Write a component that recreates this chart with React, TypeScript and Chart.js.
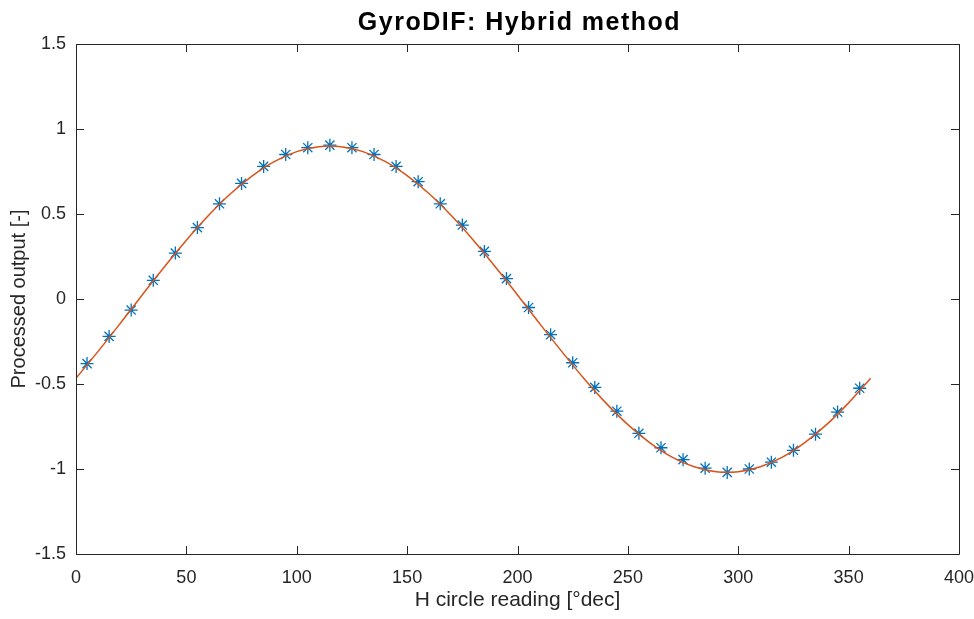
import React, { useEffect, useRef } from "react";
import { Chart, registerables } from "chart.js";

Chart.register(...registerables);

const titleText = "GyroDIF: Hybrid method";
const xTitle = "H circle reading [°dec]";
const yTitle = "Processed output [-]";

// Measured samples (asterisks)
const sampleX = [5, 15, 25, 35, 45, 55, 65, 75, 85, 95, 105, 115, 125, 135, 145, 155, 165, 175, 185, 195, 205, 215, 225, 235, 245, 255, 265, 275, 285, 295, 305, 315, 325, 335, 345, 355];
const sampleY = [-0.38, -0.22, -0.065, 0.11, 0.27, 0.42, 0.56, 0.68, 0.78, 0.85, 0.89, 0.905, 0.89, 0.85, 0.78, 0.69, 0.56, 0.435, 0.28, 0.12, -0.05, -0.21, -0.375, -0.52, -0.66, -0.79, -0.875, -0.945, -0.995, -1.02, -1.0, -0.96, -0.89, -0.795, -0.665, -0.525];

// Fitted curve (orange line), read at 10° steps
const fitX = [0, 10, 20, 30, 40, 50, 60, 70, 80, 90, 100, 110, 120, 130, 140, 150, 160, 170, 180, 190, 200, 210, 220, 230, 240, 250, 260, 270, 280, 290, 300, 310, 320, 330, 340, 350, 360];
const fitY = [-0.466, -0.308, -0.144, 0.024, 0.188, 0.346, 0.491, 0.619, 0.726, 0.81, 0.867, 0.896, 0.896, 0.867, 0.81, 0.726, 0.619, 0.491, 0.346, 0.188, 0.024, -0.144, -0.308, -0.466, -0.611, -0.739, -0.846, -0.93, -0.987, -1.016, -1.016, -0.987, -0.93, -0.846, -0.739, -0.611, -0.466];

const xTicks = [0, 50, 100, 150, 200, 250, 300, 350, 400];
const yTicks = [-1.5, -1, -0.5, 0, 0.5, 1, 1.5];

const AXIS = "#262626";
const FONT = "Arial, 'Liberation Sans', Helvetica, sans-serif";

const boxPlugin = {
  id: "matlabBox",
  afterDraw(chart: any) {
    const { ctx, chartArea } = chart;
    const { left, right, top, bottom } = chartArea;
    const xs = chart.scales.x;
    const ys = chart.scales.y;
    const tl = 8;
    ctx.save();
    ctx.strokeStyle = AXIS;
    ctx.lineWidth = 1;
    ctx.beginPath();
    ctx.rect(Math.round(left) + 0.5, Math.round(top) + 0.5, Math.round(right - left), Math.round(bottom - top));
    xTicks.forEach((v) => {
      const px = Math.round(xs.getPixelForValue(v)) + 0.5;
      ctx.moveTo(px, bottom);
      ctx.lineTo(px, bottom - tl);
      ctx.moveTo(px, top);
      ctx.lineTo(px, top + tl);
    });
    yTicks.forEach((v) => {
      const py = Math.round(ys.getPixelForValue(v)) + 0.5;
      ctx.moveTo(left, py);
      ctx.lineTo(left + tl, py);
      ctx.moveTo(right, py);
      ctx.lineTo(right - tl, py);
    });
    ctx.stroke();
    ctx.fillStyle = "#000000";
    ctx.font = `bold 25px ${FONT}`;
    try {
      (ctx as any).letterSpacing = "1.5px";
    } catch (e) {}
    ctx.textAlign = "center";
    ctx.textBaseline = "alphabetic";
    ctx.fillText(titleText, (left + right) / 2 + 2, 30);
    ctx.restore();
  },
};

export default function App() {
  const ref = useRef<HTMLCanvasElement | null>(null);
  useEffect(() => {
    if (!ref.current) return;
    const chart = new Chart(ref.current, {
      type: "scatter",
      data: {
        datasets: [
          {
            label: "fit",
            data: fitX.map((x, i) => ({ x, y: fitY[i] })),
            showLine: true,
            borderColor: "#D95319",
            borderWidth: 1.5,
            pointRadius: 0,
            tension: 0.4,
            order: 0,
          },
          {
            label: "samples",
            data: sampleX.map((x, i) => ({ x, y: sampleY[i] })),
            showLine: false,
            pointStyle: "star",
            pointRadius: 6.5,
            borderColor: "#0072BD",
            backgroundColor: "#0072BD",
            pointBorderWidth: 1.3,
            order: 1,
          } as any,
        ],
      },
      options: {
        responsive: false,
        animation: false,
        layout: { padding: { top: 44, right: 15, left: 0, bottom: 0 } },
        plugins: {
          legend: { display: false },
          tooltip: { enabled: false },
          title: { display: false },
        },
        scales: {
          x: {
            type: "linear",
            min: 0,
            max: 400,
            afterBuildTicks: (s: any) => {
              s.ticks = xTicks.map((v) => ({ value: v }));
            },
            afterFit: (s: any) => {
              s.height = 65;
              s.paddingLeft = 0;
              s.paddingRight = 0;
            },
            grid: { display: false, drawTicks: false },
            border: { display: false },
            ticks: {
              color: AXIS,
              font: { family: FONT, size: 18 },
              padding: 13,
              maxRotation: 0,
              autoSkip: false,
            },
            title: {
              display: true,
              text: xTitle,
              color: AXIS,
              font: { family: FONT, size: 21 },
              padding: { top: 0, bottom: 6 },
            },
          },
          y: {
            type: "linear",
            min: -1.5,
            max: 1.5,
            afterBuildTicks: (s: any) => {
              s.ticks = yTicks.map((v) => ({ value: v }));
            },
            afterFit: (s: any) => {
              s.width = 76;
              s.paddingTop = 0;
              s.paddingBottom = 0;
            },
            grid: { display: false, drawTicks: false },
            border: { display: false },
            ticks: {
              color: AXIS,
              font: { family: FONT, size: 18 },
              padding: 10,
              autoSkip: false,
              callback: (v: any) => String(v),
            },
            title: {
              display: true,
              text: yTitle,
              color: AXIS,
              font: { family: FONT, size: 20 },
              padding: { top: 7, bottom: 0 },
            },
          },
        },
      },
      plugins: [boxPlugin],
    });
    return () => chart.destroy();
  }, []);
  return (
    <div style={{ position: "absolute", left: 0, top: 0, width: 974, height: 619, background: "#ffffff" }}>
      <canvas ref={ref} width={974} height={619} />
    </div>
  );
}
